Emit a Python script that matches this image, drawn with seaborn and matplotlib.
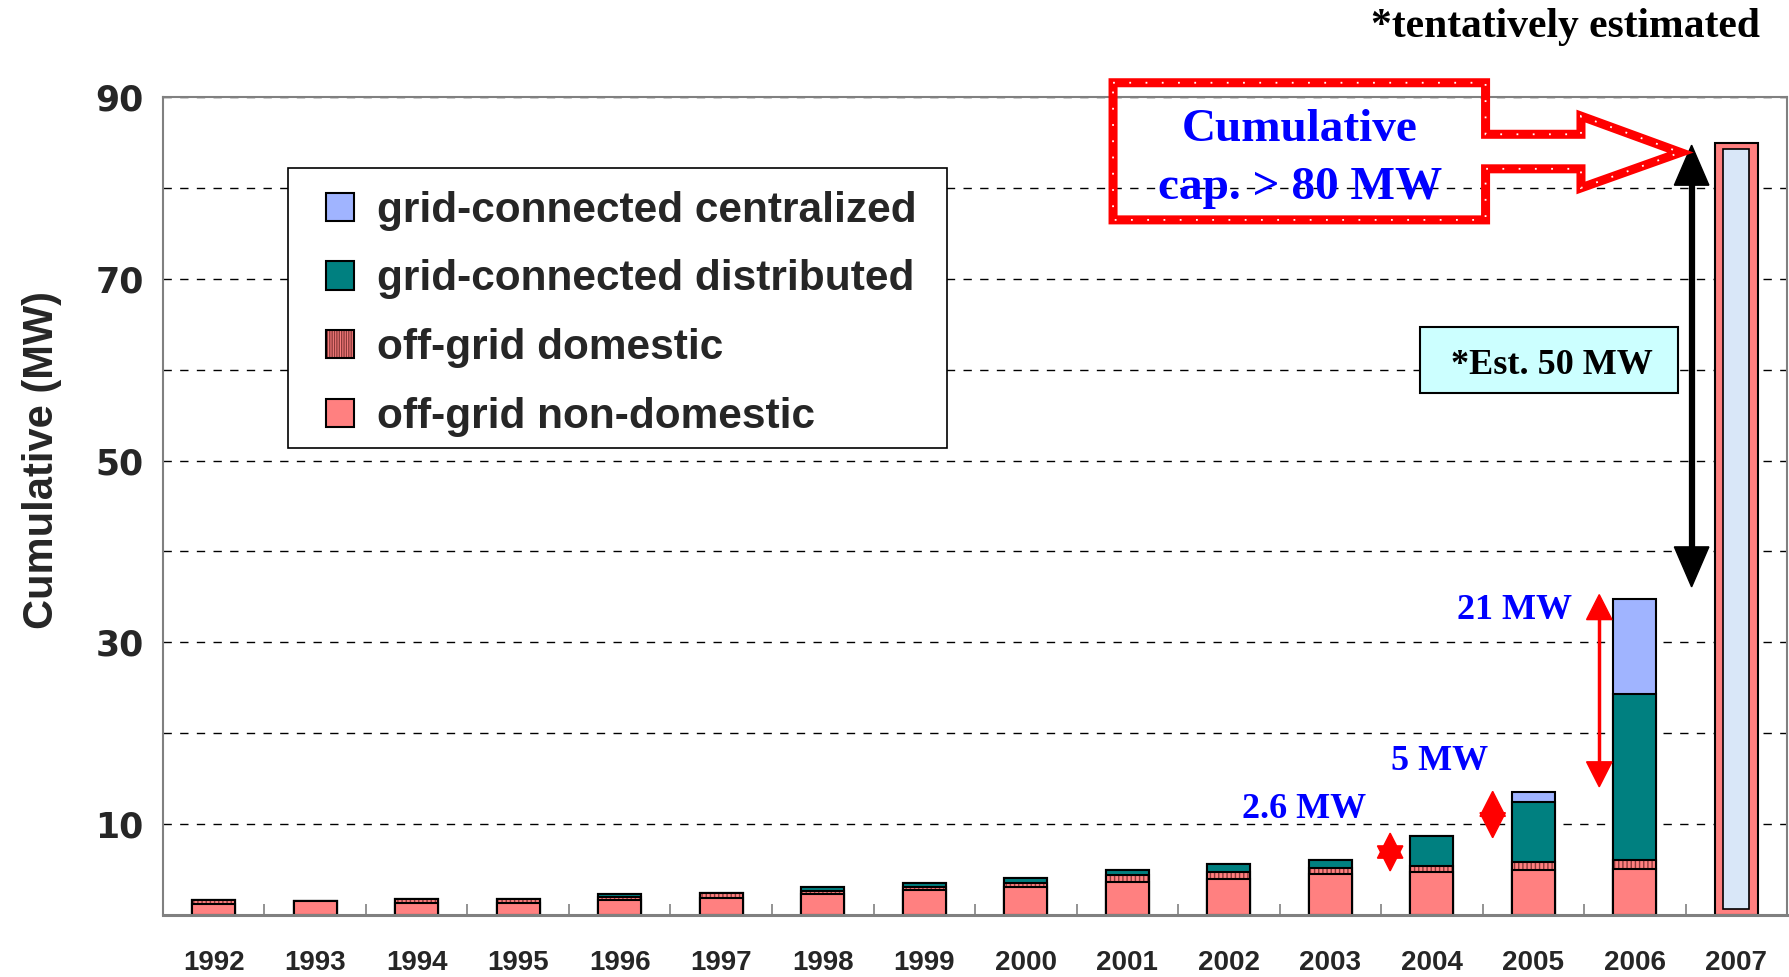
import numpy as np
import pandas as pd
import seaborn as sns
import matplotlib.pyplot as plt
from matplotlib.patches import Patch, Polygon, Rectangle
from matplotlib.colors import to_rgba
from matplotlib.ticker import FixedLocator

sns.set_theme(style="white")
plt.rcParams["font.family"] = ["Liberation Sans", "DejaVu Sans"]
plt.rcParams["hatch.linewidth"] = 1.0

# data ------------------------------------------------------------------------
years = [str(y) for y in range(1992, 2008)]
hist_years = years[:-1]                     # 1992-2006, stacked components
nondom = [1.2, 1.55, 1.36, 1.36, 1.62, 1.84, 2.28, 2.72, 3.05, 3.6, 4.0, 4.5, 4.7, 4.9, 5.1]
dom    = [0.4, 0.0, 0.44, 0.44, 0.4, 0.62, 0.4, 0.35, 0.45, 0.75, 0.7, 0.7, 0.7, 0.9, 1.0]
dist   = [0.0, 0.0, 0.0, 0.0, 0.26, 0.0, 0.45, 0.5, 0.6, 0.65, 0.95, 0.9, 3.3, 6.6, 18.2]
cent   = [0.0] * 13 + [1.15, 10.5]
est_2007 = 84.9                             # tentatively estimated total
inner_2007 = (0.7, 84.3)                    # inner light-blue box, bottom/top

C_NONDOM, C_DOM_HATCH = "#ff8080", "#8b3a3a"
C_DIST, C_CENT, C_2007 = "#008080", "#a0b4ff", "#d9e7f8"
BLUE = "#0000ff"

df = pd.DataFrame({"year": hist_years, "nondom": nondom, "dom": dom,
                   "dist": dist, "cent": cent})
df["c1"] = df["nondom"]
df["c2"] = df["c1"] + df["dom"]
df["c3"] = df["c2"] + df["dist"]
df["c4"] = df["c3"] + df["cent"]

# figure ----------------------------------------------------------------------
fig = plt.figure(figsize=(17.89, 9.77), dpi=100)
ax = fig.add_axes([0.0911, 0.0635, 0.9078, 0.8372])

W = 0.42
bar_kw = dict(order=years, width=W, saturation=1, edgecolor="black",
              linewidth=1.5, ax=ax, errorbar=None)

sns.barplot(data=df, x="year", y="c4", color=C_CENT, **bar_kw)
sns.barplot(data=df, x="year", y="c3", color=C_DIST, **bar_kw)
n_before = len(ax.patches)
sns.barplot(data=df, x="year", y="c2", color=C_NONDOM, hatch="||||", **bar_kw)
for p in ax.patches[n_before:]:
    p._hatch_color = to_rgba(C_DOM_HATCH)
sns.barplot(data=df, x="year", y="c1", color=C_NONDOM, **bar_kw)

# 2007 estimate: pink frame with light-blue interior
sns.barplot(x=["2007"], y=[est_2007], color=C_NONDOM, **bar_kw)
sns.barplot(x=["2007"], y=[inner_2007[1]], order=years, width=0.26,
            saturation=1, color=C_2007, edgecolor="black", linewidth=1.2,
            ax=ax, errorbar=None)
p = ax.patches[-1]
p.set_y(inner_2007[0]); p.set_height(inner_2007[1] - inner_2007[0])

# axes styling ----------------------------------------------------------------
ax.set_xlim(-0.5, 15.5)
ax.set_ylim(0, 90)
ax.yaxis.set_major_locator(FixedLocator([10, 30, 50, 70, 90]))
ax.yaxis.set_minor_locator(FixedLocator([20, 40, 60, 80]))
ax.yaxis.grid(True, which="both", color="black", linestyle=(0, (6, 6)), lw=1)
ax.set_axisbelow(True)
ax.tick_params(axis="y", which="both", length=0, pad=14)
for lab in ax.get_yticklabels():
    lab.set_fontfamily("DejaVu Sans"); lab.set_fontweight("bold"); lab.set_fontsize(25)
ax.xaxis.set_minor_locator(FixedLocator(np.arange(0.5, 15, 1)))
ax.tick_params(axis="x", which="major", length=0, pad=25, labelsize=20)
ax.tick_params(axis="x", which="minor", direction="in", length=8,
               color="#808080", width=1.2, bottom=True)
for lab in ax.get_xticklabels():
    lab.set_fontweight("bold")
ax.set_xlabel("")
ax.set_ylabel("Cumulative (MW)", fontsize=30, fontweight="bold")
ax.yaxis.set_label_coords(-0.062, 0.556)
for s in ax.spines.values():
    s.set_color("#808080"); s.set_linewidth(1.5)
ax.spines["bottom"].set_linewidth(2.2)

# legend ----------------------------------------------------------------------
ax.add_patch(Rectangle((0.0767, 0.571), 0.4061, 0.3422, transform=ax.transAxes,
                       fc="white", ec="black", lw=1.2, zorder=9))
handles = [Patch(facecolor=C_CENT, edgecolor="black", lw=1.5),
           Patch(facecolor=C_DIST, edgecolor="black", lw=1.5),
           Patch(facecolor=C_NONDOM, edgecolor="black", hatch="|||||||", lw=1.5),
           Patch(facecolor=C_NONDOM, edgecolor="black", lw=1.5)]
labels = ["grid-connected centralized", "grid-connected distributed",
          "off-grid domestic", "off-grid non-domestic"]
leg = ax.legend(handles, labels, loc="center left", bbox_to_anchor=(0.1004, 0.735),
                prop=dict(family="Liberation Sans", weight="bold", size=30.5),
                handlelength=0.65, handleheight=0.65, handletextpad=0.55,
                labelspacing=0.68, borderpad=0, borderaxespad=0, frameon=False)
leg.set_zorder(10)
leg.legend_handles[2]._hatch_color = to_rgba(C_DOM_HATCH)

# annotations -----------------------------------------------------------------
serif = dict(family="Liberation Serif", weight="bold")


def double_arrow(x, y0, y1, head, half_w, color, shaft_lw):
    if y1 - y0 > 2 * head:
        ax.plot([x, x], [y0 + head * 0.5, y1 - head * 0.5], color=color,
                lw=shaft_lw, solid_capstyle="butt", zorder=5)
    ax.add_patch(Polygon([(x, y1), (x - half_w, y1 - head), (x + half_w, y1 - head)],
                         closed=True, color=color, zorder=6, clip_on=False))
    ax.add_patch(Polygon([(x, y0), (x - half_w, y0 + head), (x + half_w, y0 + head)],
                         closed=True, color=color, zorder=6, clip_on=False))


double_arrow(11.59, 4.85, 9.0, 2.75, 0.125, "red", 2.5)
double_arrow(12.60, 8.5, 13.6, 2.75, 0.125, "red", 2.5)
double_arrow(13.65, 14.1, 35.25, 2.75, 0.125, "red", 2.5)
double_arrow(14.56, 36.1, 84.7, 4.4, 0.17, "black", 4.5)

ax.text(10.74, 11.6, "2.6 MW", color=BLUE, fontsize=26, ha="center", va="center", **serif)
ax.text(12.08, 16.9, "5 MW", color=BLUE, fontsize=26, ha="center", va="center", **serif)
ax.text(12.82, 33.5, "21 MW", color=BLUE, fontsize=26, ha="center", va="center", **serif)

ax.add_patch(Polygon([(11.88, 57.4), (14.43, 57.4), (14.43, 64.65), (11.88, 64.65)],
                     closed=True, fc="#ccffff", ec="black", lw=1.5, zorder=6))
ax.text(13.18, 60.5, "*Est. 50 MW", color="black", fontsize=26, ha="center",
        va="center", zorder=7, **serif)

callout = [(8.86, 91.57), (12.53, 91.57), (12.53, 85.9), (13.47, 85.9),
           (13.47, 87.9), (14.45, 83.9), (13.47, 80.0), (13.47, 82.1),
           (12.53, 82.1), (12.53, 76.48), (8.86, 76.48)]
ax.add_patch(Polygon(callout, closed=True, fill=False, ec="red", lw=6.5,
                     joinstyle="miter", zorder=6, clip_on=False))
ax.add_patch(Polygon(callout, closed=True, fill=False, ec="white", lw=1.3,
                     linestyle=(0, (1, 8)), zorder=7, clip_on=False))
ax.text(10.70, 83.2, "Cumulative\ncap. > 80 MW", color=BLUE, fontsize=34,
        ha="center", va="center", linespacing=1.5, zorder=8, **serif)

fig.text(0.9838, 0.972, "*tentatively estimated", color="black", fontsize=30,
         ha="right", va="center", **serif)

fig.savefig("out.png", dpi=100)
